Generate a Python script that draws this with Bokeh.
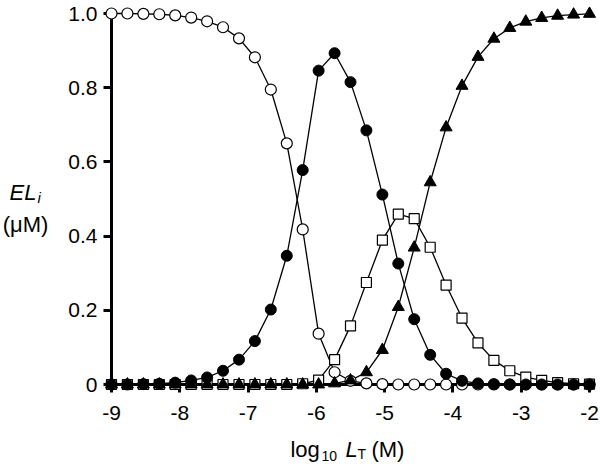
from bokeh.plotting import figure
from bokeh.models import Range1d, FixedTicker, CustomJSTickFormatter
from bokeh.core.properties import value
from bokeh.embed import file_html
from bokeh.resources import INLINE

# ---- data ----
log_lt = [-9.0, -8.767, -8.533, -8.3, -8.067, -7.833, -7.6, -7.367, -7.133, -6.9,
          -6.667, -6.433, -6.2, -5.967, -5.733, -5.5, -5.267, -5.033, -4.8, -4.567,
          -4.333, -4.1, -3.867, -3.633, -3.4, -3.167, -2.933, -2.7, -2.467, -2.233, -2.0]

free_e = [1.0, 1.0, 0.999, 0.998, 0.995, 0.989, 0.979, 0.963, 0.933, 0.882,
          0.795, 0.650, 0.418, 0.137, 0.033, 0.010, 0.003, 0.001, 0.0, 0.0,
          0.0, 0.0, 0.0, 0.0, 0.0, 0.0, 0.0, 0.0, 0.0, 0.0, 0.0]

el1 = [0.0, 0.0, 0.001, 0.002, 0.005, 0.011, 0.019, 0.037, 0.067, 0.117,
       0.202, 0.347, 0.578, 0.846, 0.893, 0.815, 0.685, 0.512, 0.326, 0.176,
       0.080, 0.029, 0.010, 0.003, 0.001, 0.0, 0.0, 0.0, 0.0, 0.0, 0.0]

el2 = [0.0, 0.0, 0.0, 0.0, 0.0, 0.0, 0.0, 0.0, 0.0, 0.0,
       0.0, 0.0, 0.002, 0.012, 0.067, 0.158, 0.275, 0.389, 0.459, 0.447,
       0.370, 0.268, 0.179, 0.112, 0.065, 0.037, 0.020, 0.011, 0.005, 0.002, 0.001]

el3 = [0.0, 0.0, 0.0, 0.0, 0.0, 0.0, 0.0, 0.0, 0.0, 0.0,
       0.0, 0.0, 0.0, 0.0, 0.003, 0.011, 0.033, 0.093, 0.209, 0.369,
       0.545, 0.693, 0.805, 0.883, 0.932, 0.961, 0.978, 0.988, 0.994, 0.997, 0.999]

x_ticks = [-9, -8, -7, -6, -5, -4, -3, -2]
y_ticks = [0, 0.2, 0.4, 0.6, 0.8, 1.0]

FONT = "Liberation Sans"

p = figure(width=600, height=466, output_backend="svg", toolbar_location=None,
           title=None,
           x_range=Range1d(-9, -2), y_range=Range1d(0, 1),
           min_border_left=111, min_border_right=11, min_border_top=13,
           min_border_bottom=82)
p.outline_line_color = None
p.xgrid.visible = False
p.ygrid.visible = False
p.background_fill_color = "white"
p.border_fill_color = "white"

xa = p.xaxis[0]
ya = p.yaxis[0]
for ax in (xa, ya):
    ax.axis_line_width = 3
    ax.axis_line_color = "black"
    ax.major_tick_line_width = 3
    ax.major_tick_line_color = "black"
    ax.major_tick_out = 8
    ax.major_tick_in = 0
    ax.minor_tick_line_color = None
    ax.major_label_text_font = FONT
    ax.major_label_text_font_size = "21px"
    ax.major_label_text_color = "black"

xa.ticker = FixedTicker(ticks=x_ticks)
ya.ticker = FixedTicker(ticks=y_ticks)
xa.formatter = CustomJSTickFormatter(code="return tick.toFixed(0);")
ya.formatter = CustomJSTickFormatter(code="return tick == 0 ? '0' : tick.toFixed(1);")
xa.major_label_standoff = 13
ya.major_label_standoff = 6

# ---- curves (overlay level so edge markers are not clipped) ----
for ys in (free_e, el1, el2, el3):
    p.line(log_lt, ys, line_color="black", line_width=1.3, level="overlay")

p.scatter(log_lt, free_e, marker="circle", size=11, fill_color="white",
          line_color="black", line_width=1.2, level="overlay")
p.scatter(log_lt, el2, marker="square", size=10, fill_color="white",
          line_color="black", line_width=1.2, level="overlay")
p.scatter(log_lt, el1, marker="circle", size=11, fill_color="black",
          line_color="black", line_width=1.0, level="overlay")
p.scatter(log_lt, el3, marker="triangle", size=12, fill_color="black",
          line_color="black", line_width=1.0, level="overlay")

# ---- axis titles as text glyphs ----
def lab(x, y, text, size, style="normal", align="left"):
    p.text(x=[x], y=[y], text=[text], text_font=value(FONT),
           text_font_size=size, text_font_style=style, text_align=align,
           text_baseline="alphabetic", text_color="black", level="overlay")

# y title: EL_i (μM)
lab(-10.494, 0.5175, "EL", "22px", "italic")
lab(-10.084, 0.503, "i", "15px", "italic")
lab(-10.259, 0.431, "(\u03bcM)", "22px", "normal", "center")

# x title: log10 L_T (M)
lab(-6.379, -0.1752, "log", "22px")
lab(-5.925, -0.1914, "10", "14px")
lab(-5.573, -0.1752, "L", "22px", "italic")
lab(-5.398, -0.186, "T", "14px")
lab(-5.193, -0.1752, "(M)", "22px")

open("out.html", "w").write(file_html(p, INLINE))
